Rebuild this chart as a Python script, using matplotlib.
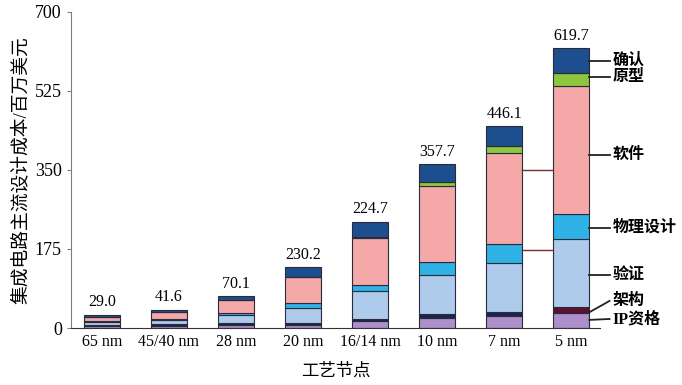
import matplotlib.pyplot as plt
import numpy as np

plt.rcParams['font.family'] = ['Liberation Serif', 'Noto Sans CJK SC']

# process nodes and stacked segments (million USD), bottom to top
nodes = ['65 nm', '45/40 nm', '28 nm', '20 nm', '16/14 nm', '10 nm', '7 nm', '5 nm']
ip_qual = [5, 5, 7, 7, 15, 22, 26, 33]
architecture = [2, 3, 5, 4, 6, 9, 9, 13]
verification = [7, 9, 17, 33, 62, 86, 108, 151]
physical = [2, 2, 5, 11, 13, 29, 42, 55]
software = [8, 17, 28, 58, 104, 168, 203, 285]
prototype = [0, 0, 0, 0, 2, 9, 15, 28]
validation = [5, 5, 8, 22, 33, 40, 44, 55]
total_labels = ['29.0', '41.6', '70.1', '230.2', '224.7', '357.7', '446.1', '619.7']

segments = [ip_qual, architecture, verification, physical, software, prototype, validation]
seg_names = ['IP资格', '架构', '验证', '物理设计', '软件', '原型', '确认']
colors = ['#ad90c9', '#1c2552', '#aecbec', '#2fb2e6', '#f5a8a8', '#8dc63f', '#1d4f8e']
# label y positions on the right side (data units)
label_y = [20, 60, 118, 222, 383, 556, 592]
anchor_y = [18, 35, 118, 222, 383, 556, 592]

fig = plt.figure(figsize=(6.82, 3.85), dpi=100)
ax = fig.add_axes([0.104, 0.148, 0.776, 0.821])

x = np.arange(len(nodes))
width = 0.54
bottom = np.zeros(len(nodes))
for vals, c in zip(segments, colors):
    vals = np.array(vals, dtype=float)
    cols = [c] * len(nodes)
    if c == '#1c2552':
        cols[-1] = '#5c1232'
    ax.bar(x, vals, width, bottom=bottom, color=cols,
           edgecolor='#2a2a3a', linewidth=0.8)
    bottom += vals

for i, t in enumerate(total_labels):
    ax.text(x[i], bottom[i] + 10, t, ha='center', va='bottom', fontsize=11.5)

# connecting lines between 7 nm and 5 nm bars
for yv in [350, 173]:
    ax.plot([x[6] + width / 2, x[7] - width / 2], [yv, yv],
            color='#7a2a2a', linewidth=1.0)

# right side legend labels
xr = x[-1] + width / 2
for name, ly, ay in zip(seg_names, label_y, anchor_y):
    ax.plot([xr, xr + 0.3], [ay, ly], color='#222222', linewidth=1.3,
            clip_on=False)
    ax.text(xr + 0.35, ly, name, ha='left', va='center', fontsize=11.5,
            fontweight='bold')

ax.set_xlim(-0.46, 7.43)
ax.set_ylim(0, 700)
ax.set_yticks([0, 175, 350, 525, 700])
ax.set_xticks(x)
ax.set_xticklabels(nodes, fontsize=11.5)
ax.tick_params(axis='y', labelsize=13, length=3, color='#8a7a70')
ax.tick_params(axis='x', length=0, pad=4)
ax.spines['top'].set_visible(False)
ax.spines['right'].set_visible(False)
ax.spines['left'].set_color('#8a7a70')
ax.spines['bottom'].set_color('#333333')
ax.set_ylabel('集成电路主流设计成本/百万美元', fontsize=13.5, labelpad=4)
ax.set_xlabel('工艺节点', fontsize=12.5, labelpad=10)

fig.savefig('out.png', dpi=100)
